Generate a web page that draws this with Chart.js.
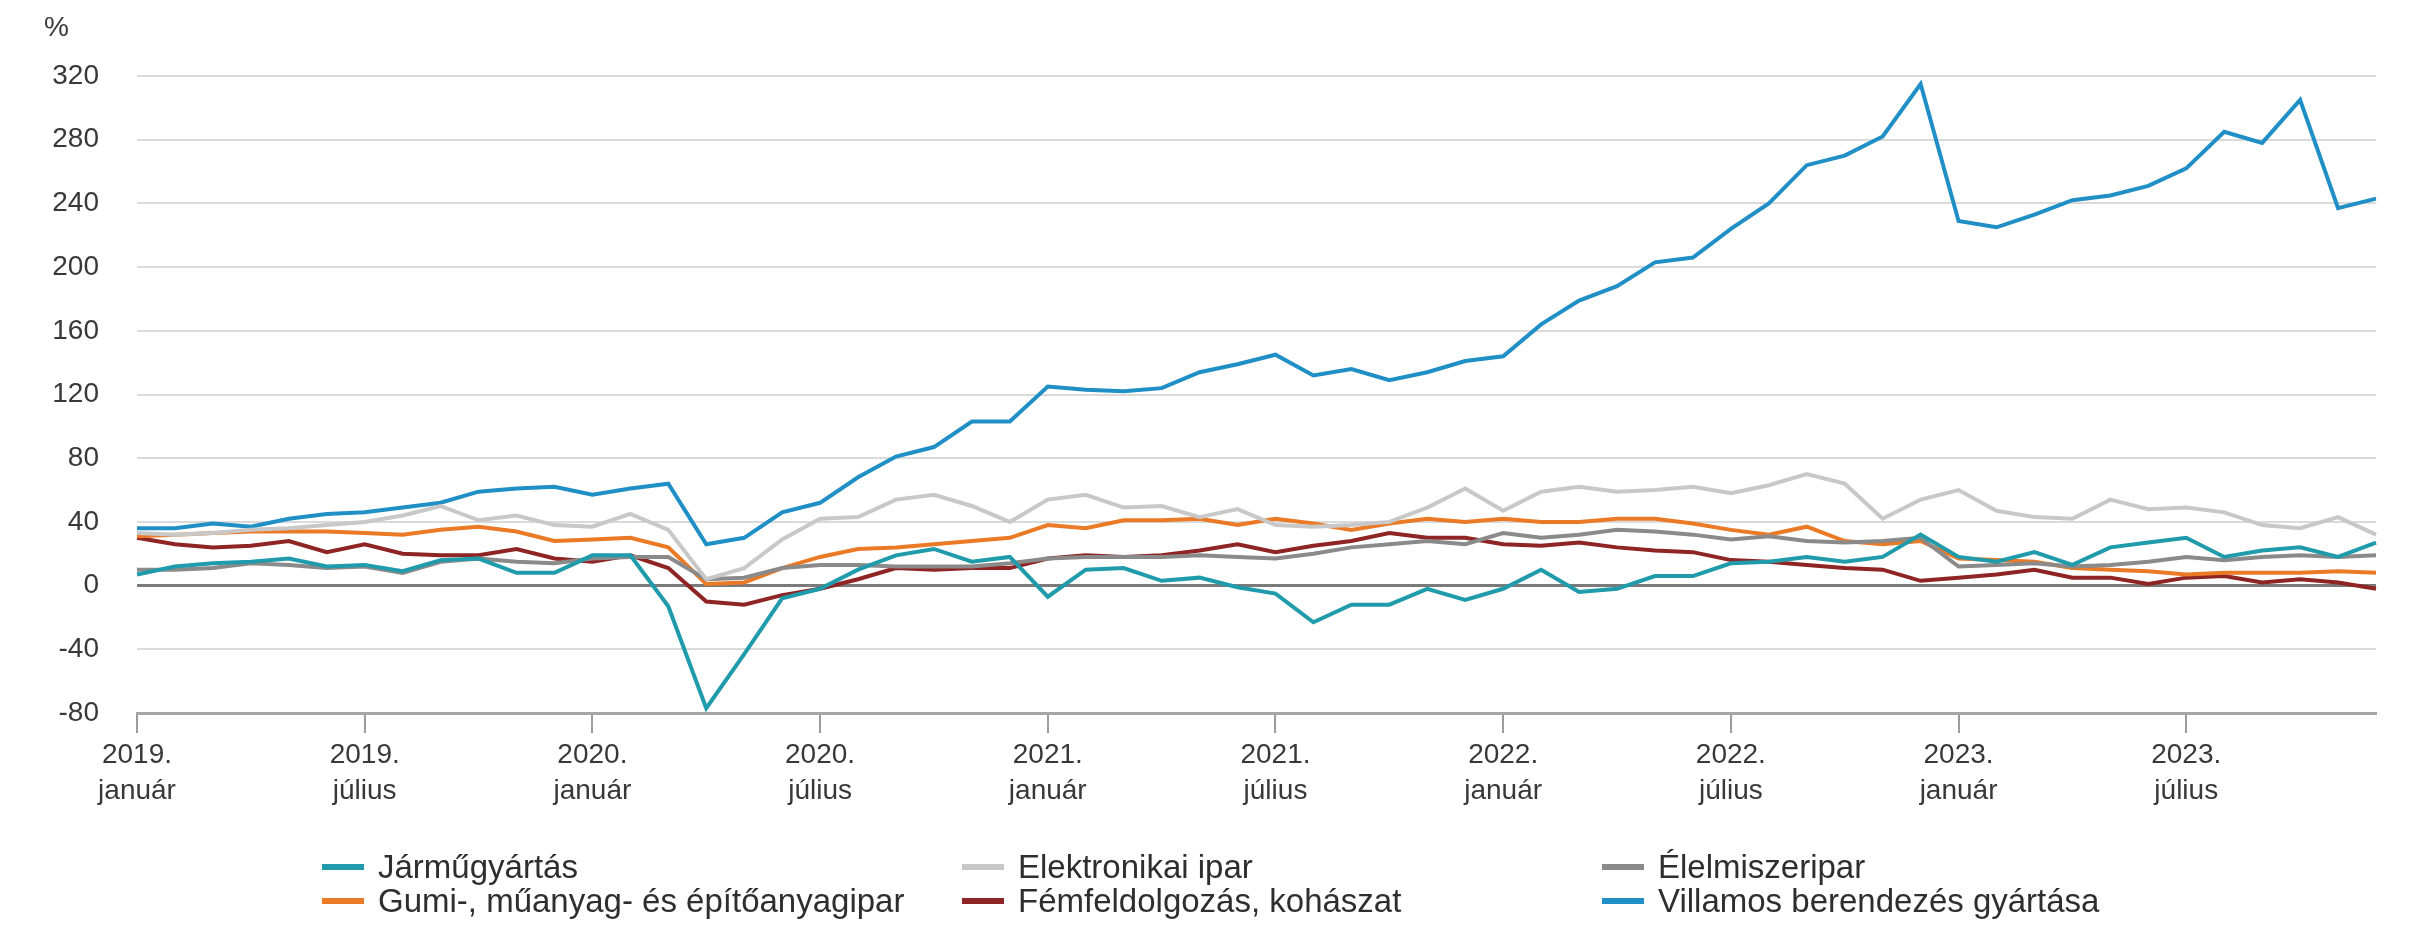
<!DOCTYPE html>
<html>
<head>
<meta charset="utf-8">
<title>Ágazatok termelése</title>
<script src="https://cdn.jsdelivr.net/npm/chart.js@4.4.1/dist/chart.umd.min.js"></script>
<style>
  html, body { margin: 0; padding: 0; background: #fff; }
  body { width: 2416px; height: 937px; position: relative; overflow: hidden;
         font-family: "Liberation Sans", Arial, sans-serif; color: #333; }
  #wrap { position: absolute; left: 0; top: 0; width: 2416px; height: 937px; }
  .unit { position: absolute; left: 44px; top: 11px; font-size: 28px; line-height: 32px; color: #383838; }
  .legend-item { position: absolute; height: 34px; display: flex; align-items: center;
                 font-size: 33px; color: #2e2e2e; white-space: nowrap; }
  .legend-item .sw { display: inline-block; width: 42px; height: 6px; margin-right: 14px; }
</style>
</head>
<body>
<div id="wrap"><canvas id="chart"></canvas></div>
<div class="unit">%</div>
<div id="legend"></div>
<script>
/* categories: monthly, 2019. január – 2023. december */
const years = [2019, 2020, 2021, 2022, 2023];
const monthNames = ['január', 'február', 'március', 'április', 'május', 'június',
    'július', 'augusztus', 'szeptember', 'október', 'november', 'december'];
const tickMonths = ['január', 'július'];

/* series, % */
const jarmu = [7, 12, 14, 15, 17, 12, 13, 9, 16, 17, 8, 8,
    19, 19, -13, -77, -43, -8, -2, 10, 19, 23, 15, 18,
    -7, 10, 11, 3, 5, -1, -5, -23, -12, -12, -2, -9,
    -2, 10, -4, -2, 6, 6, 14, 15, 18, 15, 18, 32,
    18, 15, 21, 13, 24, 27, 30, 18, 22, 24, 18, 27];
const elektronikai = [33, 32, 33, 35, 36, 38, 40, 44, 50, 41, 44, 38,
    37, 45, 35, 4, 11, 29, 42, 43, 54, 57, 50, 40,
    54, 57, 49, 50, 43, 48, 38, 37, 38, 40, 49, 61,
    47, 59, 62, 59, 60, 62, 58, 63, 70, 64, 42, 54,
    60, 47, 43, 42, 54, 48, 49, 46, 38, 36, 43, 32];
const elelmiszer = [10, 10, 11, 14, 13, 11, 12, 8, 15, 17, 15, 14,
    17, 18, 18, 4, 5, 11, 13, 13, 12, 12, 12, 14,
    17, 18, 18, 18, 19, 18, 17, 20, 24, 26, 28, 26,
    33, 30, 32, 35, 34, 32, 29, 31, 28, 27, 28, 30,
    12, 13, 14, 12, 13, 15, 18, 16, 18, 19, 18, 19];
const gumi = [31, 32, 33, 34, 34, 34, 33, 32, 35, 37, 34, 28,
    29, 30, 24, 1, 2, 11, 18, 23, 24, 26, 28, 30,
    38, 36, 41, 41, 42, 38, 42, 39, 35, 39, 42, 40,
    42, 40, 40, 42, 42, 39, 35, 32, 37, 28, 26, 28,
    17, 16, 15, 11, 10, 9, 7, 8, 8, 8, 9, 8];
const fem = [30, 26, 24, 25, 28, 21, 26, 20, 19, 19, 23, 17,
    15, 19, 11, -10, -12, -6, -2, 4, 11, 10, 11, 11,
    17, 19, 18, 19, 22, 26, 21, 25, 28, 33, 30, 30,
    26, 25, 27, 24, 22, 21, 16, 15, 13, 11, 10, 3,
    5, 7, 10, 5, 5, 1, 5, 6, 2, 4, 2, -2];
const villamos = [36, 36, 39, 37, 42, 45, 46, 49, 52, 59, 61, 62,
    57, 61, 64, 26, 30, 46, 52, 68, 81, 87, 103, 103,
    125, 123, 122, 124, 134, 139, 145, 132, 136, 129, 134, 141,
    144, 164, 179, 188, 203, 206, 224, 240, 264, 270, 282, 315,
    229, 225, 233, 242, 245, 251, 262, 285, 278, 305, 237, 243];

/* y axis */
const yMin = -80;
const yMax = 320;
const yStep = 40;

const labels = [];
years.forEach(function(y) {
    monthNames.forEach(function(m) { labels.push(y + '. ' + m); });
});

const series = [
    { label: 'Járműgyártás', data: jarmu, color: '#1f9bab' },
    { label: 'Elektronikai ipar', data: elektronikai, color: '#c8c8c8' },
    { label: 'Élelmiszeripar', data: elelmiszer, color: '#8a8a8a' },
    { label: 'Gumi-, műanyag- és építőanyagipar', data: gumi, color: '#ea7a26' },
    { label: 'Fémfeldolgozás, kohászat', data: fem, color: '#8e2424' },
    { label: 'Villamos berendezés gyártása', data: villamos, color: '#1f8fc6' }
];

const tickFont = { family: '"Liberation Sans", Arial, sans-serif', size: 28, lineHeight: 1.3 };

const chart = new Chart(document.getElementById('chart'), {
    type: 'line',
    data: {
        labels: labels,
        datasets: series.map(function(s) {
            return {
                label: s.label,
                data: s.data,
                borderColor: s.color,
                backgroundColor: s.color,
                borderWidth: 4,
                pointRadius: 0,
                tension: 0,
                fill: false
            };
        })
    },
    options: {
        responsive: true,
        maintainAspectRatio: false,
        animation: false,
        layout: { padding: { top: 76, right: 40, left: 0, bottom: 0 } },
        plugins: {
            legend: { display: false },
            tooltip: { enabled: false }
        },
        scales: {
            x: {
                grid: {
                    drawOnChartArea: false,
                    drawTicks: true,
                    tickLength: 20,
                    color: '#9c9c9c',
                    lineWidth: 2
                },
                border: { display: true, color: '#a6a6a6', width: 3 },
                ticks: {
                    autoSkip: false,
                    maxRotation: 0,
                    padding: 4,
                    color: '#383838',
                    font: tickFont,
                    callback: function(value, index) {
                        const parts = labels[index].split(' ');
                        if (tickMonths.indexOf(parts[1]) === -1) return null;
                        return parts;
                    }
                },
                afterFit: function(scale) { scale.height = 224; }
            },
            y: {
                min: yMin,
                max: yMax,
                border: { display: false },
                grid: {
                    drawTicks: false,
                    lineWidth: function(ctx) {
                        return ctx.tick && ctx.tick.value === 0 ? 3 : 2;
                    },
                    color: function(ctx) {
                        return ctx.tick && ctx.tick.value === 0 ? '#7a7a7a' : '#dadada';
                    }
                },
                ticks: {
                    stepSize: yStep,
                    padding: 38,
                    color: '#383838',
                    font: tickFont
                },
                afterFit: function(scale) { scale.width = 137; }
            }
        }
    }
});

/* HTML legend, 3 columns x 2 rows */
const legendCols = [322, 962, 1602];
const legendRows = [850, 884];
const legendBox = document.getElementById('legend');
chart.data.datasets.forEach(function(ds, k) {
    const item = document.createElement('div');
    item.className = 'legend-item';
    item.style.left = legendCols[k % 3] + 'px';
    item.style.top = legendRows[Math.floor(k / 3)] + 'px';
    item.innerHTML = '<span class="sw" style="background:' + ds.borderColor + '"></span>' + ds.label;
    legendBox.appendChild(item);
});
</script>
</body>
</html>
